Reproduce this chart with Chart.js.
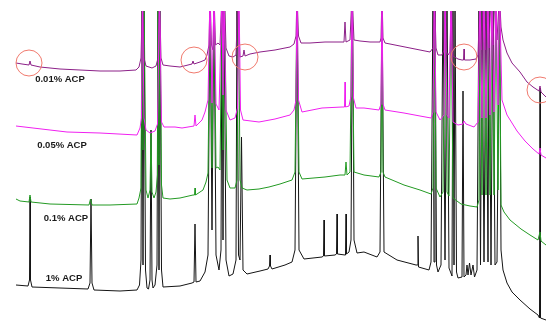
<!DOCTYPE html>
<html>
<head>
<meta charset="utf-8">
<script src="https://cdn.jsdelivr.net/npm/chart.js@4.4.1/dist/chart.umd.min.js"></script>
<style>
  html, body { margin: 0; padding: 0; background: #fff; }
  #wrap { width: 546px; height: 324px; }
</style>
</head>
<body>
<div id="wrap"><canvas id="nmrChart" width="546" height="324"></canvas></div>
<script>
// peaks that run off the top of the plot get this intensity
const OFF = 330;

// [shift position, intensity]
const acp001 = [
  [16,261],[22,260],[29,259],[30,263],[31,259],[40,257],[60,255],[80,254],[100,253],[120,253],
  [136,254],[139,257],[141,266],[142.5,OFF],[144,266],[146,258],[152,256],[156,258],[158,266],[159.5,OFF],
  [161,266],[163,259],[170,258],[180,257],[188,259],[192,260],[193,263],[194,260],[200,262],[205,264],
  [207,269],[209,279],[210,OFF],[211.5,279],[213,274],[214,OFF],[215.5,279],[218,281],[220,279],[222,OFF],
  [223.5,284],[224.5,OFF],[226,276],[229,268],[233,267],[236,269],[238,OFF],[240,267],[243,268],[244,274],
  [245,268],[250,270],[260,272],[275,274],[290,277],[294,280],[296,288],[297,OFF],[298.5,288],[301,281],
  [310,281],[325,282],[340,282],[344,282],[345,302],[346,282],[350,284],[352,OFF],[354,284],[360,283],
  [370,282],[380,282],[381,286],[382,OFF],[383,286],[385,281],[400,278],[415,275],[430,272],[433,276],
  [434.5,OFF],[436,276],[438,269],[442,269],[444,274],[445,OFF],[446.5,272],[448,269],[450,272],[451.5,OFF],
  [453,268],[458,265],[462,264],[463.5,264],[464,275],[464.5,264],[470,264],[476,265],[478,269],[480,OFF],
  [481.5,274],[483,OFF],[485,274],[487,OFF],[489,276],[491,OFF],[493,279],[495,OFF],[497,284],[499.5,OFF],
  [501,297],[503,284],[507,271],[512,261],[520,252],[527,242],[533,237],[539,233],[540,238],[541,232],[546,227]
];

const acp005 = [
  [16,198],[33,196],[67,192],[100,191],[137,189],[140,196],[141.5,206],[142.5,OFF],[144,206],[146,194],
  [150,191],[155,193],[157.5,200],[159.5,OFF],[161.5,202],[164,197],[175,197],[182,196],[194,198],[195,209],
  [196,198],[202,204],[205,212],[208,224],[210,OFF],[212,221],[214,OFF],[216,220],[219,214],[222,OFF],
  [223,229],[224,OFF],[226,214],[230,204],[235,206],[237.5,216],[239,OFF],[240.5,214],[243,204],[259,202],
  [275,205],[290,209],[294,214],[296,224],[297,OFF],[298.5,224],[302,212],[322,216],[342,217],[344.5,217],
  [345,242],[345.5,217],[349,218],[351,228],[352,OFF],[353.5,226],[356,216],[364,216],[379,214],[381,220],
  [382,OFF],[383,220],[385,214],[404,211],[420,208],[431,206],[433,212],[434.5,OFF],[436,212],[440,204],
  [444,209],[445,OFF],[447,209],[449,206],[451,OFF],[453,202],[458,199],[463,200],[464,203],[466,200],
  [474,197],[478,202],[480,OFF],[482,206],[484,OFF],[486,206],[488,OFF],[490,209],[492,OFF],[494,212],
  [496,OFF],[498,219],[499.5,OFF],[502,224],[507,209],[512,201],[517,193],[525,183],[533,175],[539,170],
  [540,176],[541,169],[546,166]
];

const acp01 = [
  [16,125],[20,123],[29,122],[30,129],[31,122],[50,120],[89,119],[90.5,125],[92,119],[110,119],
  [137,120],[139,126],[141,136],[142,OFF],[143,174],[144,OFF],[146,134],[148,126],[150,134],[151,191],
  [152,132],[154,126],[156,132],[157.5,149],[158,OFF],[159,159],[160,OFF],[161.5,139],[163,126],[170,125],
  [180,126],[193,129],[194.5,129],[195,136],[195.5,129],[200,132],[203,134],[206,142],[208,151],[210,OFF],
  [212,156],[214,OFF],[216,156],[218,157],[220,154],[222,OFF],[223,174],[224.5,OFF],[227,144],[230,136],
  [235,136],[237,144],[238.5,OFF],[240,144],[242,136],[247,134],[259,135],[269,137],[280,140],[292,144],
  [295,152],[297,OFF],[299,152],[302,145],[325,147],[340,149],[345,149],[346,162],[347,149],[350,152],
  [352,OFF],[354,152],[364,149],[379,147],[381,152],[382,OFF],[383,152],[385,147],[404,139],[420,134],
  [431,130],[433,136],[434.5,OFF],[436,136],[440,127],[443,132],[445,OFF],[447,132],[449,128],[451,OFF],
  [453,126],[461,120],[470,118],[477,117],[479,124],[480,OFF],[482,129],[484,OFF],[486,129],[488,OFF],
  [490,129],[492,OFF],[494,129],[496,OFF],[498,134],[499.5,OFF],[501,119],[504,112],[510,104],[521,95],
  [530,89],[538,84],[540,92],[541,83],[546,79]
];

const acp1 = [
  [16,39],[28,38],[29.5,44],[30,127],[30.5,44],[32,37],[60,36],[88,35],[90,41],[91,125],
  [92,41],[94,34],[120,33],[137,34],[139.5,39],[141,64],[142,OFF],[143,59],[144,OFF],[145.5,54],
  [147,36],[148.5,35],[150,44],[151,194],[152,44],[153,36],[155,39],[157,59],[158,OFF],[159,54],
  [160,OFF],[161.5,54],[163,37],[180,38],[192,41],[194,42],[195,100],[196,42],[200,43],[205,52],
  [208,69],[210,OFF],[212,94],[214,OFF],[216,69],[219,54],[221,74],[222,OFF],[223,84],[224,OFF],
  [226,64],[229,48],[233,50],[236,64],[237,OFF],[238.5,69],[240,64],[241.5,187],[243,54],[247,50],
  [260,53],[268,55],[269.5,58],[270,69],[270.5,58],[272,55],[285,59],[292,62],[295,74],[297,OFF],
  [299,74],[304,65],[322,67],[323.5,68],[324,104],[324.5,68],[335,69],[336.5,70],[337,110],[337.5,70],
  [345,69],[345.5,70],[346,110],[346.5,70],[349,72],[351,84],[352.5,OFF],[354,84],[357,71],[364,72],
  [377,67],[380,72],[382,OFF],[384,72],[397,64],[416,59],[417.5,59],[418,88],[418.5,57],[429,54],
  [431,62],[433,OFF],[434,62],[435,OFF],[436.5,59],[438,52],[441,59],[443,OFF],[445,64],[447,OFF],
  [449,56],[452,48],[453,OFF],[454,59],[455,OFF],[456.5,52],[458,46],[462,47],[463,233],[464,47],
  [466,49],[467,59],[468,49],[469.5,61],[471,49],[473,59],[474.5,47],[477,54],[479,OFF],[480.5,59],
  [482,OFF],[484,62],[486,OFF],[488,62],[489,OFF],[491,59],[493,OFF],[495,59],[497,62],[499.5,OFF],
  [501,74],[503,54],[507,41],[512,32],[520,24],[530,15],[538,9],[539.5,6],[540,236],[540.5,6],[546,4]
];

// trace labels and where they sit
const labelTexts = ["0.01% ACP", "0.05% ACP", "0.1% ACP", "1% ACP"];
const labelX = [60, 62, 66, 64];
const labelY = [245, 179, 106, 46];

// circled signals
const circleX = [29, 194, 245, 464, 540];
const circleY = [261, 264, 267, 267, 234];

function toPoints(pairs) {
  return pairs.map(p => ({ x: p[0], y: p[1] }));
}

const traceLabels = {
  id: 'traceLabels',
  afterDatasetsDraw(chart) {
    const ctx = chart.ctx;
    const xs = chart.scales.x, ys = chart.scales.y;
    ctx.save();
    ctx.font = 'bold 9.5px "Liberation Sans", Arial, sans-serif';
    ctx.fillStyle = '#1a1a1a';
    ctx.textAlign = 'center';
    ctx.textBaseline = 'middle';
    labelTexts.forEach((t, i) => {
      ctx.fillText(t, xs.getPixelForValue(labelX[i]), ys.getPixelForValue(labelY[i]));
    });
    ctx.restore();
  }
};

function lineSet(label, pairs, color, order) {
  return {
    type: 'line',
    label: label,
    data: toPoints(pairs),
    borderColor: color,
    borderWidth: 1,
    pointRadius: 0,
    tension: 0,
    fill: false,
    order: order
  };
}

function initChart() {
  const ctx = document.getElementById('nmrChart').getContext('2d');
  new Chart(ctx, {
    type: 'line',
    data: {
      datasets: [
        {
          type: 'scatter',
          label: 'marked',
          data: circleX.map((x, i) => ({ x: x, y: circleY[i] })),
          pointRadius: 13,
          pointStyle: 'circle',
          borderColor: '#f07a6e',
          backgroundColor: 'rgba(0,0,0,0)',
          pointBorderWidth: 1,
          clip: false,
          order: 0
        },
        lineSet('0.05% ACP', acp005, '#f020f0', 1),
        lineSet('0.01% ACP', acp001, '#8c2088', 2),
        lineSet('0.1% ACP', acp01, '#239a23', 3),
        lineSet('1% ACP', acp1, '#151515', 4)
      ]
    },
    options: {
      responsive: false,
      animation: false,
      layout: { autoPadding: false, padding: { top: 11, left: 0, right: 0, bottom: 0 } },
      plugins: {
        legend: { display: false },
        tooltip: { enabled: false }
      },
      scales: {
        x: { type: 'linear', min: 0, max: 546, display: false },
        y: { type: 'linear', min: 0, max: 313, display: false }
      }
    },
    plugins: [traceLabels]
  });
}

window.addEventListener("DOMContentLoaded", initChart);
</script>
</body>
</html>
